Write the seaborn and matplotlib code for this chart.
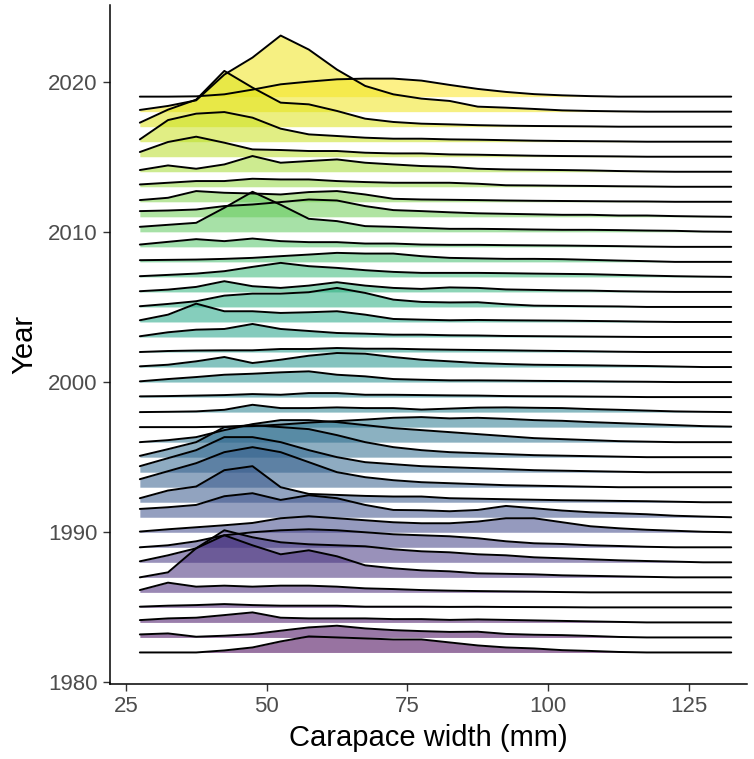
import numpy as np
import pandas as pd
import seaborn as sns
import matplotlib.pyplot as plt

# bin mid points of carapace width (mm)
widths = [27.5, 32.5, 37.5, 42.5, 47.5, 52.5, 57.5, 62.5, 67.5, 72.5, 77.5,
          82.5, 87.5, 92.5, 97.5, 102.5, 107.5, 112.5, 117.5, 122.5, 127.5, 132.5]

years = list(range(1982, 2020))

# relative density per bin, one row per year
h1982 = [0, 0, 0, 2, 5, 11, 16, 15, 14, 13, 13, 10, 7, 5, 4, 2.3, 1.5, 0.5, 0, 0, 0, 0]
h1983 = [3, 4, 0.7, 1.7, 3.3, 6.7, 10, 11.7, 9, 7.3, 6.3, 5.5, 5.7, 3.5, 2.7, 2.3, 1.5, 0.5, 0, 0, 0, 0]
h1984 = [2.3, 4, 4.7, 7.3, 10, 4.7, 4, 4, 4, 3.3, 3.3, 2.5, 3, 2.5, 2, 1.5, 1, 0.5, 0, 0, 0, 0]
h1985 = [0.7, 1.7, 2.3, 3.3, 2.3, 1.7, 1.7, 1.7, 0.7, 0.7, 0.7, 0.5, 0.6, 0.4, 0.3, 0.2, 0, 0, 0, 0, 0, 0]
h1986 = [2.3, 9.7, 5.7, 6.7, 5.7, 6.7, 6.7, 5.7, 4, 3.3, 2.3, 1.7, 1.3, 1, 0.7, 0.3, 0, 0, 0, 0, 0, 0]
h1987 = [0, 5, 29, 42, 32, 23, 27, 21, 12, 9, 7, 6, 4, 3.5, 3, 2, 1.5, 1, 0.5, 0, 0, 0]
h1988 = [1, 7, 14, 32, 25, 20, 18, 17, 16, 13, 11, 10, 8, 7, 5, 4, 3, 2, 1.3, 0.7, 0, 0]
h1989 = [0, 2, 6, 12, 15, 17, 18, 17, 15, 13, 12, 11, 9, 6, 4, 3.3, 2, 1.3, 0.5, 0, 0, 0]
h1990 = [0.7, 3, 5, 7, 9.3, 14, 16, 14, 12, 10, 9, 9, 10.7, 14, 14, 10, 6, 4, 2.5, 1.5, 0.5, 0]
h1991 = [8.3, 10, 12.3, 21, 24, 17.3, 22, 19, 12.3, 7.3, 7, 6, 7.3, 11.3, 9, 6.7, 5, 4, 3, 1.5, 0.7, 0]
h1992 = [4, 11.7, 15.7, 32, 36, 15, 8.3, 7.3, 6.3, 5.7, 5.7, 4, 3.5, 3, 2.5, 2, 1.7, 1.3, 1, 0.5, 0, 0]
h1993 = [8, 16, 24, 35, 40, 35, 25, 15, 10, 7, 5, 4, 3, 2, 1.5, 1, 0.5, 0, 0, 0, 0, 0]
h1994 = [6, 14, 22, 35, 35, 30, 22, 15, 10, 8, 6, 5, 4, 3, 2, 1.5, 1, 0.5, 0, 0, 0, 0]
h1995 = [1.3, 8, 15, 30, 32, 30, 28, 22, 15, 10, 7, 5, 4, 3, 2, 1.5, 1, 0.5, 0, 0, 0, 0]
h1996 = [0, 2, 5, 12, 18, 22, 22, 20, 17, 14, 12, 10, 8, 6, 4, 3, 2, 1, 0.5, 0, 0, 0]
h1997 = [0, 0, 0, 0.5, 1, 2.5, 4.5, 6, 7.5, 9.3, 10, 8.7, 9.3, 8.3, 7, 6.3, 5, 4, 3, 2, 1, 0.5]
h1998 = [0, 0.3, 0.7, 2.3, 7.3, 4, 4, 4.7, 4, 4, 2.5, 3.5, 4.5, 4.7, 4.3, 4, 3, 2.3, 1.5, 0.7, 0.3, 0]
h1999 = [0.7, 1, 1.5, 2, 3, 2.3, 4, 4, 2.3, 2.3, 2, 1.7, 1.5, 1, 0.8, 0.7, 0.5, 0.3, 0, 0, 0, 0]
h2000 = [0.7, 3, 5, 7.3, 8.3, 9.7, 10.7, 7.3, 5.7, 3, 2.3, 1.7, 1.7, 1.5, 1.2, 1, 0.8, 0.5, 0.3, 0, 0, 0]
h2001 = [0.7, 2.3, 5.7, 10, 4, 7.3, 11.3, 14, 13.3, 10, 7.3, 5.7, 4, 3, 2.3, 2, 1.7, 1.3, 1, 0.5, 0, 0]
h2002 = [0, 1, 1.5, 1.7, 1.7, 3, 3, 4, 3.3, 3.3, 2.7, 2.3, 2, 1.7, 1.3, 1, 0.7, 0.3, 0, 0, 0, 0]
h2003 = [0.7, 4.7, 7.3, 8, 13, 8, 6, 4, 3.3, 2.3, 2.3, 1.7, 1.5, 1, 0.8, 0.6, 0.4, 0.2, 0, 0, 0, 0]
h2004 = [1.7, 7.3, 18.3, 10.7, 10.7, 9, 9.7, 10.7, 7.3, 3, 2.3, 1.7, 2, 1.7, 1.5, 1.3, 1, 0.7, 0.3, 0, 0, 0]
h2005 = [0.7, 3, 5.7, 11.3, 13.3, 13.3, 14.7, 19, 14, 7.3, 5, 4.5, 4.7, 2.7, 1.3, 1, 0.7, 0.5, 0, 0, 0, 0]
h2006 = [0.7, 2.3, 5, 10.7, 5.7, 4, 6.3, 9.7, 6.3, 4, 3, 4.5, 4, 2.5, 2, 1.5, 1.3, 0.7, 0.3, 0, 0, 0]
h2007 = [0.7, 2, 3.3, 5.7, 10, 14, 10.7, 9, 6.7, 5, 4, 4, 4, 3.7, 3.3, 3, 2.7, 2, 1.3, 0.7, 0.3, 0]
h2008 = [1.7, 2, 2.3, 3, 4, 5.7, 7.3, 9, 8.3, 8.3, 5.7, 4, 3.5, 3, 3, 2.7, 2, 1.3, 0.7, 0, 0, 0]
h2009 = [2.3, 5, 7.7, 5.7, 8.3, 5.7, 4.7, 4.7, 3.3, 3.3, 2.3, 2, 2, 1.7, 1.5, 1.3, 1, 0.7, 0.3, 0, 0, 0]
h2010 = [5, 7, 9, 24, 40, 27, 13, 10.7, 5.7, 5, 4, 3, 3, 2.7, 2.3, 2, 2, 1.7, 1.3, 1, 0.3, 0]
h2011 = [5.7, 6.3, 7.3, 10.7, 12.3, 14.7, 17.3, 16.3, 10.7, 6.7, 5.7, 4.5, 3.5, 3, 2.5, 2, 2, 1.3, 1.3, 0.7, 0.3, 0]
h2012 = [1.7, 4, 10.7, 9, 8.3, 7.3, 9.7, 10.7, 7.3, 3, 2.3, 2, 1.7, 1.3, 1, 0.8, 0.6, 0.4, 0.3, 0, 0, 0]
h2013 = [2.3, 4, 5.7, 5.7, 8, 7.3, 7.3, 5.7, 4.7, 4, 4, 4, 3, 1.5, 1.3, 1, 0.8, 0.5, 0.3, 0, 0, 0]
h2014 = [1.7, 6.3, 3, 7.3, 15.7, 9, 10.7, 12.3, 9, 7.3, 5.7, 5, 3, 2.3, 2, 1.7, 1.3, 0.7, 0.3, 0, 0, 0]
h2015 = [4.7, 14.7, 20, 14, 7.3, 6.7, 5.7, 5.7, 4, 3.3, 3.3, 2.3, 2, 1.5, 1, 0.7, 0.5, 0.3, 0, 0, 0, 0]
h2016 = [2.3, 21.6, 28, 29.6, 24, 13, 7.3, 5.7, 4, 3, 3, 2.3, 2, 1.5, 1, 0.7, 0.5, 0.3, 0, 0, 0, 0]
h2017 = [4, 17, 27, 55.7, 39, 24, 22.3, 15.7, 8, 4.7, 3, 2.3, 1.5, 1, 0.7, 0.5, 0.3, 0, 0, 0, 0, 0]
h2018 = [1.7, 5.7, 11.3, 37, 54, 76, 62, 42, 25.7, 17.3, 13, 10.7, 5, 4, 2.7, 1.3, 0.7, 0.3, 0, 0, 0, 0]
h2019 = [0, 0, 0.3, 2.3, 7, 12.3, 15, 17.3, 18, 18, 16, 11.7, 7.7, 4.7, 2.5, 1.3, 0.5, 0, 0, 0, 0, 0]

heights = [h1982, h1983, h1984, h1985, h1986, h1987, h1988, h1989, h1990, h1991,
           h1992, h1993, h1994, h1995, h1996, h1997, h1998, h1999, h2000, h2001,
           h2002, h2003, h2004, h2005, h2006, h2007, h2008, h2009, h2010, h2011,
           h2012, h2013, h2014, h2015, h2016, h2017, h2018, h2019]

scale = 1 / 15.0  # ridge height in units of one year

sns.set_theme(style="ticks")
plt.rcParams['font.family'] = ['Liberation Sans', 'DejaVu Sans']

fig = plt.figure(figsize=(7.54, 7.59), dpi=100)
ax = fig.add_axes([110 / 754, 75 / 759, 637 / 754, 679 / 759])
cmap = plt.get_cmap('viridis')

# draw from the top ridge down so lower ridges sit in front
for yr, h in reversed(list(zip(years, heights))):
    top = yr + np.array(h) * scale
    col = cmap((yr - years[0]) / (years[-1] - years[0]))
    ax.fill_between(widths, yr, top, color=col, alpha=0.55, lw=0)
    d = pd.DataFrame({'width': widths, 'top': top})
    sns.lineplot(data=d, x='width', y='top', color='black', lw=1.4, ax=ax)

ax.set_xlim(22.2, 135.3)
ax.set_ylim(1979.9, 2025.1)
ax.set_xticks([25, 50, 75, 100, 125])
ax.set_yticks([1980, 1990, 2000, 2010, 2020])
ax.set_xlabel('Carapace width (mm)', fontsize=21, color='black', labelpad=5)
ax.set_ylabel('Year', fontsize=21, color='black', labelpad=7)
ax.tick_params(labelsize=16, colors='#4D4D4D', length=5, width=1, pad=4)
ax.tick_params(color='#333333')
for s in ['left', 'bottom']:
    ax.spines[s].set_linewidth(1.1)
    ax.spines[s].set_color('black')
sns.despine(ax=ax)

fig.savefig('out.png', dpi=100)
